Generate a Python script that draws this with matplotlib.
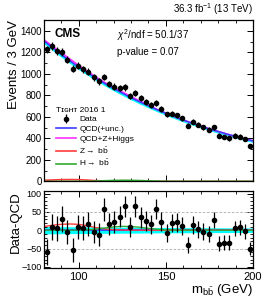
import numpy as np
import matplotlib
matplotlib.use("Agg")
import matplotlib.pyplot as plt
import matplotlib.ticker as ticker
from matplotlib.lines import Line2D

plt.rcParams['font.family'] = ['Liberation Sans', 'DejaVu Sans']
plt.rcParams['mathtext.fontset'] = 'custom'
plt.rcParams['mathtext.rm'] = 'Liberation Sans'
plt.rcParams['mathtext.it'] = 'Liberation Sans:italic'

# binned data (3 GeV bins)
bin_centers = np.arange(81.5, 200, 3.0)
data_counts = [1227, 1256, 1214, 1202, 1132, 1047, 1077, 1041, 1021, 968,
               931, 971, 904, 882, 870, 873, 792, 824, 771, 739,
               707, 727, 673, 623, 630, 613, 585, 516, 553, 526,
               503, 480, 504, 425, 414, 400, 426, 416, 392, 333]
data_minus_qcd = [-60, 8, 5, 30, -5, -55, 9, 6, 17, -5,
                  -12, 57, 18, 23, 37, 65, 9, 65, 35, 26,
                  16, 57, 23, -7, 19, 21, 11, -40, 14, 3,
                  -4, -11, 28, -37, -34, -34, 5, 8, -3, -50]

# fitted curves, sampled every 5 GeV
curve_mass = np.arange(80, 201, 5)
qcd_fit = [1307, 1241, 1178, 1119, 1062, 1009, 958, 909, 863, 820,
           778, 739, 702, 666, 633, 601, 570, 542, 514, 488,
           464, 440, 418, 397, 377]
qcd_unc = [10, 9.8, 9.6, 9.4, 9.2, 9.0, 8.8, 8.6, 8.4, 8.2,
           8.0, 7.8, 7.6, 7.4, 7.3, 7.2, 7.0, 6.9, 6.8, 6.7,
           6.6, 6.5, 6.4, 6.3, 6.2]
z_bb = [10, 13.5, 16, 17, 16, 12, 7, 3.5, 1.5, 0.5,
        0.2, 0.1, 0, 0, 0, 0, 0, 0, 0, 0,
        0, 0, 0, 0, 0]
h_bb = [0, 0, 0, 0, 0.3, 1, 3, 6, 9, 10.5,
        10, 8, 5, 2.5, 1, 0.3, 0.1, 0, 0, 0,
        0, 0, 0, 0, 0]

c_qcd = '#3b3bff'
c_tot = '#ff30ff'
c_z = '#ff3b3b'
c_h = '#33aa33'
c_band = '#00ffff'

data_counts = np.array(data_counts, dtype=float)
data_err = np.sqrt(data_counts)
qcd_fit = np.array(qcd_fit, dtype=float)
qcd_unc = np.array(qcd_unc)
z_bb = np.array(z_bb)
h_bb = np.array(h_bb)

fig = plt.figure(figsize=(2.66, 3.08), dpi=100)
ax = fig.add_axes([0.165, 0.411, 0.786, 0.524])
axr = fig.add_axes([0.165, 0.130, 0.786, 0.250])


def style_axis(a, xminor, yminor):
    a.tick_params(which='both', direction='in', top=True, right=True)
    a.tick_params(which='major', length=4.5, width=0.7)
    a.tick_params(which='minor', length=2.2, width=0.6)
    a.xaxis.set_minor_locator(ticker.MultipleLocator(xminor))
    a.yaxis.set_minor_locator(ticker.MultipleLocator(yminor))
    for spine in a.spines.values():
        spine.set_linewidth(0.9)


# upper panel
ax.fill_between(curve_mass, qcd_fit - 2.5 * qcd_unc, qcd_fit + qcd_unc,
                color=c_band, lw=0)
ax.plot(curve_mass, z_bb, color=c_z, lw=1.2)
ax.plot(curve_mass, h_bb, color=c_h, lw=1.2)
ax.plot(curve_mass, qcd_fit + z_bb + h_bb, color=c_tot, lw=1.3)
ax.plot(curve_mass, qcd_fit, color=c_qcd, lw=1.1)
data_pts = ax.errorbar(bin_centers, data_counts, yerr=data_err, fmt='o',
                       color='black', ms=3.0, lw=0.9, capsize=0, zorder=5)
ax.set_xlim(80, 200)
ax.set_ylim(0, 1500)
ax.xaxis.set_major_locator(ticker.MultipleLocator(50))
ax.yaxis.set_major_locator(ticker.MultipleLocator(200))
style_axis(ax, 10, 100)
ax.tick_params(axis='x', labelbottom=False)
ax.tick_params(axis='y', labelsize=7, pad=1.5)
ax.set_ylabel('Events / 3 GeV', fontsize=9.5, loc='top', labelpad=0)

ax.text(0.05, 0.95, 'CMS', transform=ax.transAxes, fontsize=8.5,
        fontweight='bold', va='top', ha='left')
ax.text(0.35, 0.955, r'$\chi^{2}$/ndf = 50.1/37', transform=ax.transAxes,
        fontsize=7, va='top', ha='left')
ax.text(0.35, 0.835, 'p-value = 0.07', transform=ax.transAxes,
        fontsize=7, va='top', ha='left')
ax.text(1.0, 1.02, r'36.3 fb$^{-1}$ (13 TeV)', transform=ax.transAxes,
        fontsize=7, va='bottom', ha='right')

handles = [
    data_pts,
    Line2D([], [], color=c_qcd, lw=1.2),
    Line2D([], [], color=c_tot, lw=1.2),
    Line2D([], [], color=c_z, lw=1.2),
    Line2D([], [], color=c_h, lw=1.2),
]
labels = ['Data', 'QCD(+unc.)', 'QCD+Z+Higgs',
          r'Z$\rightarrow$ b$\bar{\rm b}$', r'H$\rightarrow$ b$\bar{\rm b}$']
leg = ax.legend(handles, labels, loc='upper left',
                bbox_to_anchor=(0.03, 0.50), frameon=False, fontsize=6,
                title='T\u026a\u0262\u029c\u1d1b 2016 1', title_fontsize=6,
                handlelength=2.4, handletextpad=0.4, labelspacing=0.25,
                borderpad=0.2, alignment='left')

# lower panel
axr.fill_between(curve_mass, -qcd_unc, qcd_unc, color=c_band, lw=0)
axr.axhline(0, color=c_qcd, lw=1.3)
for yv in (-50, 50):
    axr.axhline(yv, color='#aaaaaa', lw=0.6, ls=(0, (3, 2)))
axr.plot(curve_mass, z_bb, color=c_z, lw=1.0)
axr.plot(curve_mass, h_bb, color=c_h, lw=1.0)
axr.errorbar(bin_centers, data_minus_qcd, yerr=data_err, fmt='o',
             color='black', ms=3.0, lw=0.9, capsize=0, zorder=5)
axr.set_xlim(80, 200)
axr.set_ylim(-103, 107)
axr.xaxis.set_major_locator(ticker.MultipleLocator(50))
axr.yaxis.set_major_locator(ticker.MultipleLocator(50))
style_axis(axr, 10, 10)
axr.tick_params(axis='x', labelsize=8, pad=3)
axr.tick_params(axis='y', labelsize=6.5, pad=1.5)
axr.set_ylabel('Data-QCD', fontsize=9.5, loc='top', labelpad=0)
axr.set_xlabel(r'm$_{\rm b\bar{b}}$ (GeV)', fontsize=9.5, loc='right',
               labelpad=0)

fig.savefig('out.png', dpi=100)
